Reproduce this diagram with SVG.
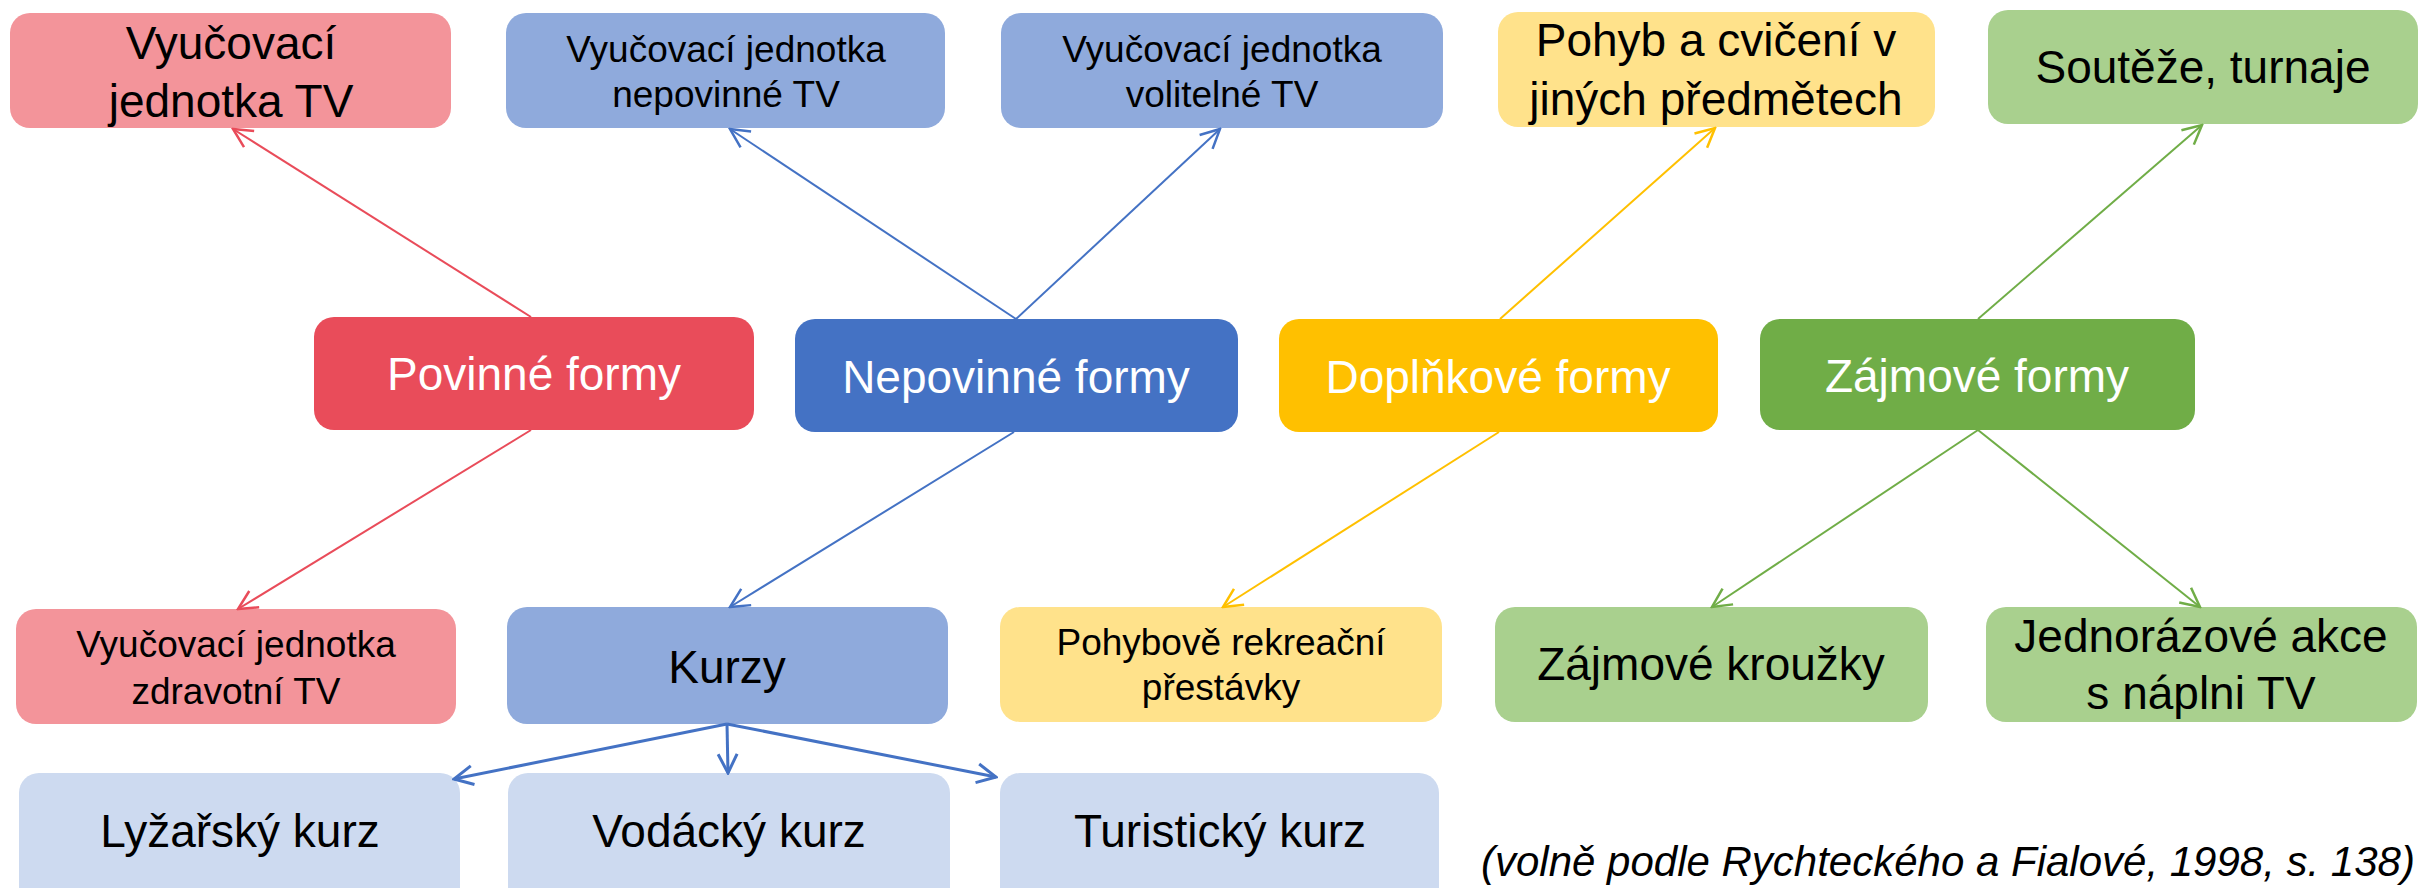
<svg xmlns="http://www.w3.org/2000/svg" width="2433" height="888" viewBox="0 0 2433 888">
<style>
text{font-family:"Liberation Sans",Arial,sans-serif;text-anchor:middle;fill:#000}
.big{font-size:46px}
.sm{font-size:37px}
.wt{fill:#fff}
.cite{font-size:42px;font-style:italic;text-anchor:start}
.c{fill:none;stroke-width:2}
.r{stroke:#E94C5A}
.b{stroke:#4472C4}
.y{stroke:#FFC000}
.g{stroke:#70AD47}
</style>
<defs>
<marker id="mr" markerUnits="userSpaceOnUse" viewBox="-22 -12 24 24" markerWidth="24" markerHeight="24" refX="0" refY="0" orient="auto"><path d="M-19-9.5L0 0L-19 9.5" fill="none" stroke="#E94C5A" stroke-width="2.5"/></marker>
<marker id="mb" markerUnits="userSpaceOnUse" viewBox="-22 -12 24 24" markerWidth="24" markerHeight="24" refX="0" refY="0" orient="auto"><path d="M-19-9.5L0 0L-19 9.5" fill="none" stroke="#4472C4" stroke-width="2.5"/></marker>
<marker id="mb3" markerUnits="userSpaceOnUse" viewBox="-22 -12 24 24" markerWidth="24" markerHeight="24" refX="0" refY="0" orient="auto"><path d="M-19-9.5L0 0L-19 9.5" fill="none" stroke="#4472C4" stroke-width="3"/></marker>
<marker id="my" markerUnits="userSpaceOnUse" viewBox="-22 -12 24 24" markerWidth="24" markerHeight="24" refX="0" refY="0" orient="auto"><path d="M-19-9.5L0 0L-19 9.5" fill="none" stroke="#FFC000" stroke-width="2.5"/></marker>
<marker id="mg" markerUnits="userSpaceOnUse" viewBox="-22 -12 24 24" markerWidth="24" markerHeight="24" refX="0" refY="0" orient="auto"><path d="M-19-9.5L0 0L-19 9.5" fill="none" stroke="#70AD47" stroke-width="2.5"/></marker>
</defs>
<rect width="2433" height="888" fill="#fff"/>

<g id="n-vj-tv"><rect x="10" y="13" width="441" height="115" rx="20" fill="#F3949A"/><text class="big" x="231" y="59">Vyučovací</text><text class="big" x="231" y="117">jednotka TV</text></g>
<g id="n-vj-nepov"><rect x="506" y="13" width="439" height="115" rx="20" fill="#8FAADC"/><text class="sm" x="726" y="62">Vyučovací jednotka</text><text class="sm" x="726" y="107">nepovinné TV</text></g>
<g id="n-vj-volit"><rect x="1001" y="13" width="442" height="115" rx="20" fill="#8FAADC"/><text class="sm" x="1222" y="62">Vyučovací jednotka</text><text class="sm" x="1222" y="107">volitelné TV</text></g>
<g id="n-pohyb"><rect x="1498" y="12" width="437" height="115" rx="20" fill="#FFE28B"/><text class="big" x="1716" y="56">Pohyb a cvičení v</text><text class="big" x="1716" y="115">jiných předmětech</text></g>
<g id="n-souteze"><rect x="1988" y="10" width="430" height="114" rx="20" fill="#A9D08E"/><text class="big" x="2203" y="83">Soutěže, turnaje</text></g>

<g id="n-povinne"><rect x="314" y="317" width="440" height="113" rx="20" fill="#E94C5A"/><text class="big wt" x="534" y="390">Povinné formy</text></g>
<g id="n-nepovinne"><rect x="795" y="319" width="443" height="113" rx="20" fill="#4472C4"/><text class="big wt" x="1016" y="393">Nepovinné formy</text></g>
<g id="n-doplnkove"><rect x="1279" y="319" width="439" height="113" rx="20" fill="#FFC000"/><text class="big wt" x="1498" y="393">Doplňkové formy</text></g>
<g id="n-zajmove"><rect x="1760" y="319" width="435" height="111" rx="20" fill="#70AD47"/><text class="big wt" x="1977" y="392">Zájmové formy</text></g>

<g id="n-zdrav"><rect x="16" y="609" width="440" height="115" rx="20" fill="#F3949A"/><text class="sm" x="236" y="657">Vyučovací jednotka</text><text class="sm" x="236" y="704">zdravotní TV</text></g>
<g id="n-kurzy"><rect x="507" y="607" width="441" height="117" rx="20" fill="#8FAADC"/><text class="big" x="727" y="683">Kurzy</text></g>
<g id="n-prestavky"><rect x="1000" y="607" width="442" height="115" rx="20" fill="#FFE28B"/><text class="sm" x="1221" y="655">Pohybově rekreační</text><text class="sm" x="1221" y="700">přestávky</text></g>
<g id="n-krouzky"><rect x="1495" y="607" width="433" height="115" rx="20" fill="#A9D08E"/><text class="big" x="1711" y="680">Zájmové kroužky</text></g>
<g id="n-jednoraz"><rect x="1986" y="607" width="431" height="115" rx="20" fill="#A9D08E"/><text class="big" x="2201" y="652">Jednorázové akce</text><text class="big" x="2201" y="709">s náplni TV</text></g>

<g id="n-lyz"><rect x="19" y="773" width="441" height="140" rx="20" fill="#CDDAF0"/><text class="big" x="240" y="847">Lyžařský kurz</text></g>
<g id="n-vod"><rect x="508" y="773" width="442" height="140" rx="20" fill="#CDDAF0"/><text class="big" x="729" y="847">Vodácký kurz</text></g>
<g id="n-tur"><rect x="1000" y="773" width="439" height="140" rx="20" fill="#CDDAF0"/><text class="big" x="1220" y="847">Turistický kurz</text></g>

<g id="connectors">
<line class="c r" x1="531" y1="317" x2="233" y2="129" marker-end="url(#mr)"/>
<line class="c r" x1="531" y1="430" x2="238" y2="609" marker-end="url(#mr)"/>
<line class="c b" x1="1016" y1="319" x2="730" y2="129" marker-end="url(#mb)"/>
<line class="c b" x1="1016" y1="319" x2="1220" y2="129" marker-end="url(#mb)"/>
<line class="c b" x1="1014" y1="432" x2="730" y2="607" marker-end="url(#mb)"/>
<line class="c y" x1="1500" y1="319" x2="1715" y2="128" marker-end="url(#my)"/>
<line class="c y" x1="1499" y1="432" x2="1223" y2="607" marker-end="url(#my)"/>
<line class="c g" x1="1978" y1="319" x2="2202" y2="125" marker-end="url(#mg)"/>
<line class="c g" x1="1978" y1="430" x2="1712" y2="607" marker-end="url(#mg)"/>
<line class="c g" x1="1978" y1="430" x2="2200" y2="607" marker-end="url(#mg)"/>
<line class="c b" style="stroke-width:3" x1="727" y1="724" x2="454" y2="779" marker-end="url(#mb3)"/>
<line class="c b" style="stroke-width:3" x1="727" y1="724" x2="728" y2="773" marker-end="url(#mb3)"/>
<line class="c b" style="stroke-width:3" x1="727" y1="724" x2="996" y2="777" marker-end="url(#mb3)"/>
</g>

<text class="cite" x="1481" y="876">(volně podle Rychteckého a Fialové, 1998, s. 138)</text>
</svg>
